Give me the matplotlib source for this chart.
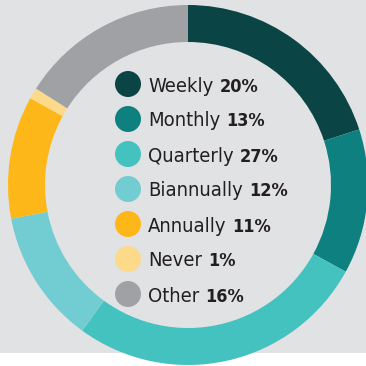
import matplotlib
matplotlib.use('Agg')
import matplotlib.pyplot as plt
from matplotlib import font_manager
from matplotlib.patches import Rectangle, Circle

labels = ['Weekly', 'Monthly', 'Quarterly', 'Biannually', 'Annually', 'Never', 'Other']
shares = [20, 13, 27, 12, 11, 1, 16]
colors = ['#0b4444', '#0f8080', '#44c2c0', '#72cdd3', '#fdb718', '#fdd98a', '#a0a1a5']

# narrowest installed face for the legend text
stretch_val = {'ultra-condensed': 100, 'extra-condensed': 200, 'condensed': 300,
               'semi-condensed': 400, 'normal': 500}


def width_of(f):
    s = f.stretch
    if isinstance(s, str):
        s = stretch_val.get(s, 500)
    if 'Condensed' in f.name or 'Narrow' in f.name:
        s = min(s, 300)
    return s


fonts = font_manager.fontManager.ttflist
narrow = sorted((f for f in fonts if width_of(f) < 500), key=width_of)
if narrow:
    family = narrow[0].name
    stretch = narrow[0].stretch
    weights = {f.weight for f in fonts if f.name == family}
    light = 'light' if any(w in (300, 'light') for w in weights) else 'normal'
else:
    family, stretch, light = 'DejaVu Sans', 'normal', 'normal'

fig = plt.figure(figsize=(3.66, 3.66), dpi=100)
fig.patch.set_facecolor('white')
fig.patches.append(Rectangle((0, 13 / 366), 1, 1, transform=fig.transFigure,
                             facecolor='#e1e2e4', edgecolor='none', zorder=-5))

ax = fig.add_axes([0, 0, 1, 1])
ax.patch.set_visible(False)

wedges, _ = ax.pie(shares, colors=colors, startangle=90, counterclock=False,
                   center=(188, 181), radius=180, frame=True,
                   wedgeprops=dict(width=37, edgecolor='none', linewidth=0))
for w in wedges:
    w.set_clip_on(False)
ax.set_xlim(0, 366)
ax.set_ylim(0, 366)
ax.set_aspect('equal')
ax.axis('off')

renderer = fig.canvas.get_renderer()
inv = ax.transData.inverted()

y0 = 366 - 84
step = 35
for i, (lab, pct, c) in enumerate(zip(labels, shares, colors)):
    y = y0 - i * step
    ax.add_patch(Circle((128, y), 13, facecolor=c, edgecolor='none'))
    t = ax.text(148, y - 7.5, lab, fontsize=14.5, family=family, stretch=stretch,
                fontweight=light, color='#231f20', va='baseline', ha='left')
    x_end = inv.transform(t.get_window_extent(renderer))[1][0]
    ax.text(x_end + 6, y - 7.5, f'{pct}%', fontsize=13, family=family,
            stretch=stretch, fontweight='bold', color='#231f20',
            va='baseline', ha='left')

fig.savefig('out.png', dpi=100, facecolor=fig.get_facecolor())
